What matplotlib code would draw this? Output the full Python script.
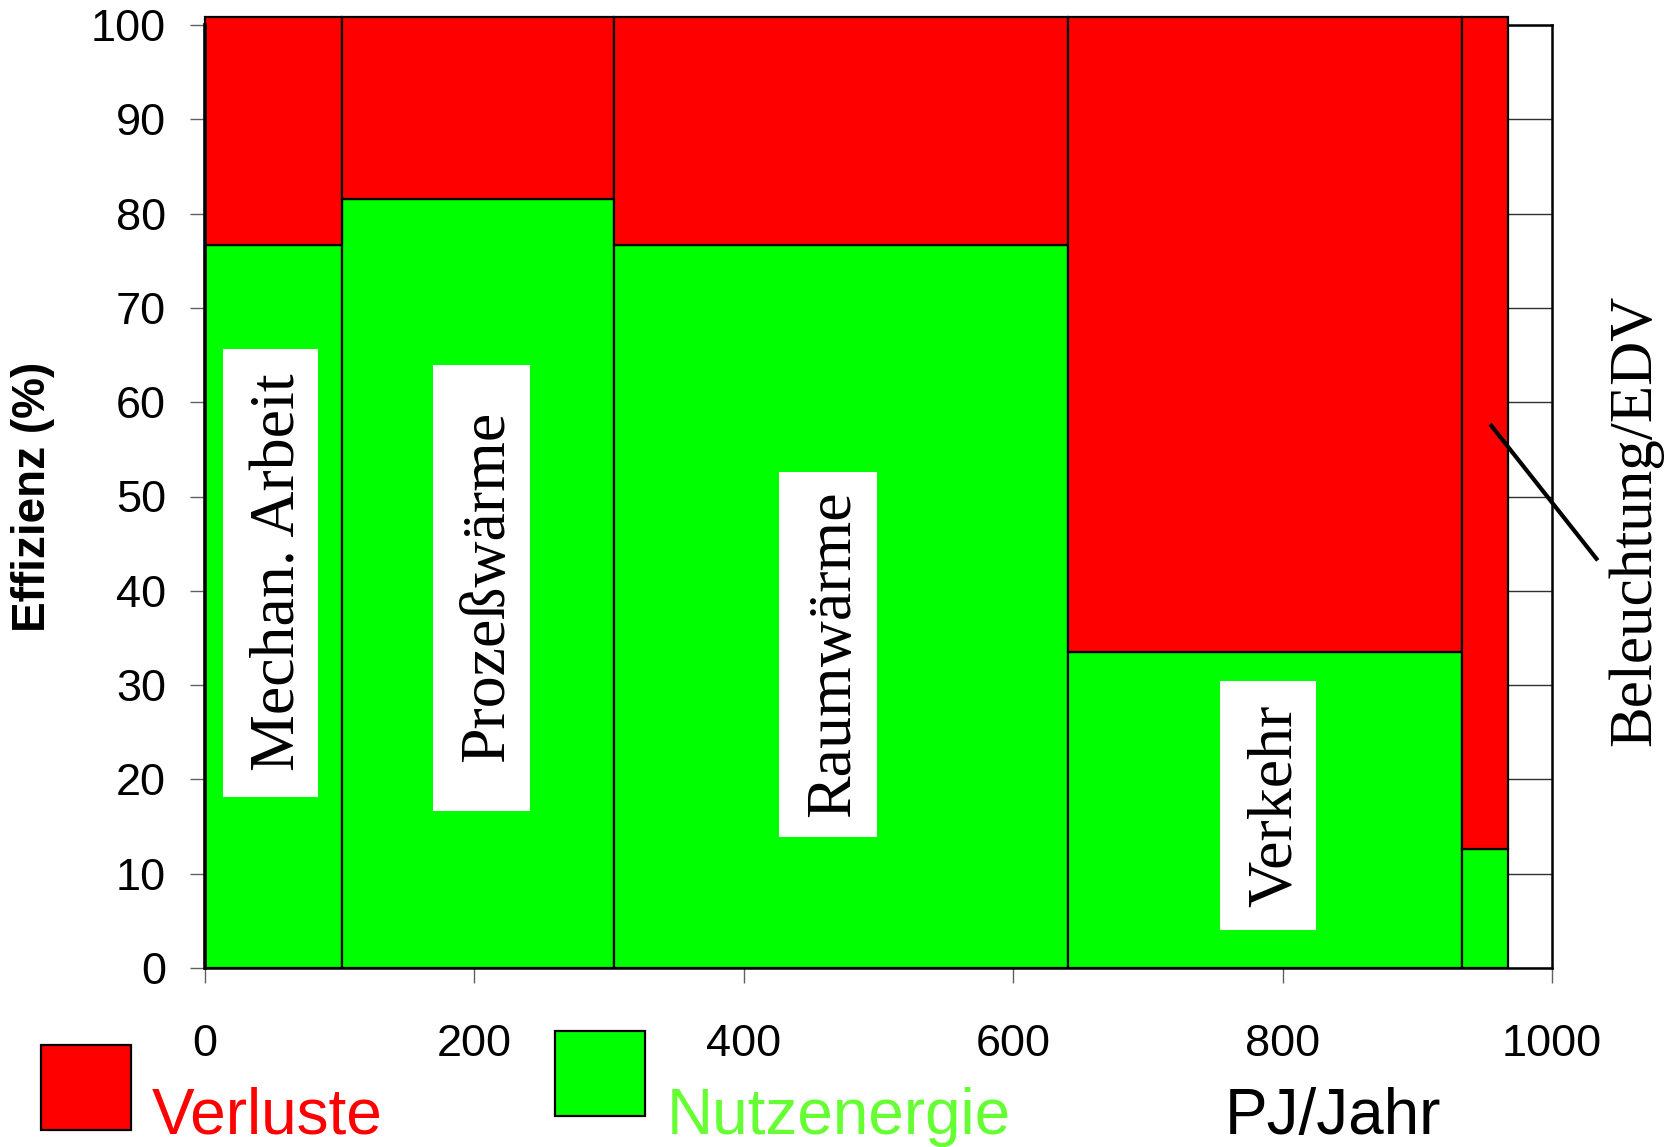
import matplotlib.pyplot as plt
from matplotlib.patches import Rectangle

# Daten: Endenergie-Verbrauch (PJ/Jahr) und Nutzungsgrad (%)
kategorien = ["Mechan. Arbeit", "Prozeßwärme", "Raumwärme", "Verkehr", "Beleuchtung/EDV"]
energie_pj = [102, 202, 337, 292, 34]
nutzen_pct = [76.7, 81.5, 76.7, 33.5, 12.6]
oberkante = 100.8

# Beschriftungen (Position in Daten-Koordinaten)
label_x = [55, 210, 467, 795, 1062]
label_y = [42, 40.5, 33.3, 17.2, 47.5]
# weiße Kästen hinter den Beschriftungen: x0, x1, y0, y1
kasten_x0 = [13.4, 169.3, 426.4, 753.5]
kasten_x1 = [84.2, 241.0, 498.8, 825.1]
kasten_y0 = [18.1, 16.6, 13.9, 4.0]
kasten_y1 = [65.6, 63.9, 52.6, 30.4]

x_ticks = [0, 200, 400, 600, 800, 1000]
y_ticks = [0, 10, 20, 30, 40, 50, 60, 70, 80, 90, 100]

legende_namen = ["Verluste", "Nutzenergie"]
legende_farben = ["#ff0000", "#00ff00"]
legende_textfarben = ["#ff0000", "#66ff33"]

W, H = 1681, 1147
fig = plt.figure(figsize=(W / 100, H / 100), dpi=100)
ax = fig.add_axes([205 / W, (H - 968) / H, 1347 / W, 943 / H])

# linke Kanten der Balken
links = [0]
for e in energie_pj[:-1]:
    links.append(links[-1] + e)
verluste = [oberkante - n for n in nutzen_pct]

ax.bar(links, nutzen_pct, width=energie_pj, align='edge', color='#00ff00',
       edgecolor='black', linewidth=1.6, zorder=2)
ax.bar(links, verluste, width=energie_pj, bottom=nutzen_pct, align='edge',
       color='#ff0000', edgecolor='black', linewidth=1.6, zorder=2, clip_on=False)

ax.set_xlim(0, 1000)
ax.set_ylim(0, 100)
ax.set_xticks(x_ticks)
ax.set_yticks(y_ticks)
ax.yaxis.grid(True, color='#303030', linewidth=1.0, zorder=0)
ax.set_axisbelow(True)
for s in ax.spines.values():
    s.set_linewidth(1.8)
    s.set_zorder(3)
ax.spines['top'].set_zorder(1)
ax.spines['left'].set_linewidth(2.6)

ax.tick_params(axis='both', labelsize=32.5, length=11, width=1.0, color='#606060',
               labelfontfamily='Liberation Sans')
ax.tick_params(axis='y', pad=17)
ax.tick_params(axis='x', pad=29)
ax.set_ylabel("Effizienz (%)", fontsize=33, fontweight='bold',
              family='Liberation Sans', labelpad=26)

# Beschriftung der Sektoren
for i, name in enumerate(kategorien):
    if i < 4:
        ax.add_patch(Rectangle((kasten_x0[i], kasten_y0[i]), kasten_x1[i] - kasten_x0[i],
                               kasten_y1[i] - kasten_y0[i], facecolor='white',
                               edgecolor='none', zorder=3))
        ax.text(label_x[i], label_y[i], name, rotation=90, ha='center', va='center',
                fontsize=46, family='Liberation Serif', zorder=4)
    else:
        ax.text(label_x[i], label_y[i], name, rotation=90, ha='center', va='center',
                fontsize=44, family='Liberation Serif', zorder=4, clip_on=False)
        ax.plot([955, 1033], [57.5, 43.4], color='black', linewidth=3.0,
                clip_on=False, zorder=5)

# Legende von Hand
kasten = [(41, 1045), (555, 1031)]
text_x = [152, 667]
for i in range(2):
    bx, by = kasten[i]
    fig.patches.append(Rectangle((bx / W, (H - by - 85) / H), 90 / W, 85 / H,
                                 transform=fig.transFigure, facecolor=legende_farben[i],
                                 edgecolor='black', linewidth=1.6))
    fig.text(text_x[i] / W, (H - 1134) / H, legende_namen[i], color=legende_textfarben[i],
             fontsize=46, family='Liberation Sans', ha='left', va='baseline')

fig.text(1225 / W, (H - 1134) / H, "PJ/Jahr", fontsize=46, family='Liberation Sans',
         ha='left', va='baseline')

fig.savefig("out.png", dpi=100)
